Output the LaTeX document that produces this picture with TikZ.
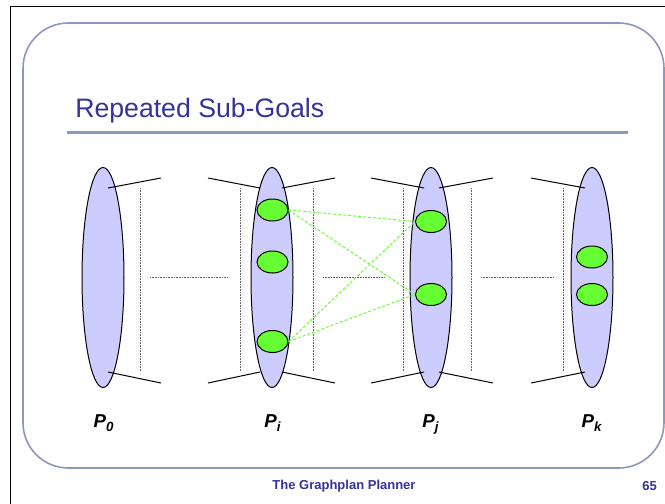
\documentclass[tikz,border=0pt]{standalone}
\usepackage{fontspec}
\setmainfont{Liberation Sans}
\usetikzlibrary{positioning,calc,shapes.geometric}
\definecolor{slideblue}{RGB}{51,51,153}
\definecolor{framegray}{RGB}{140,150,195}
\definecolor{layerfill}{RGB}{204,204,255}
\definecolor{goalgreen}{RGB}{102,255,51}
\newcommand{\lvl}[1]{P\raisebox{-0.5ex}{\fontsize{10}{12}\selectfont #1}}

\begin{document}
\begin{tikzpicture}[x=0.75pt,y=-0.75pt,
    layer/.style={ellipse,draw=black,fill=layerfill,line width=0.75pt,minimum width=31.5pt,minimum height=165pt,inner sep=0pt},
    goal/.style={ellipse,draw=black,fill=goalgreen,line width=0.75pt,minimum width=23.25pt,minimum height=16.5pt,inner sep=0pt},
    edge/.style={black,line width=0.75pt},
    mtx/.style={black!60,line width=0.75pt,dash pattern=on 0.6pt off 0.6pt},
    link/.style={goalgreen,line width=0.75pt,dash pattern=on 2.25pt off 1.5pt},
    lbl/.style={font=\fontsize{14}{16}\selectfont\bfseries\itshape,anchor=base,inner sep=0pt}]
    \useasboundingbox (0,0) rectangle (665,504);
    \draw[black,line width=0.75pt] (10,504) -- (10,6) -- (665,6);
    \draw[framegray,line width=1.2pt,rounded corners=34pt] (23,23) rectangle (664,468);
    \node[anchor=base west,text=slideblue,font=\fontsize{20}{24}\selectfont,inner sep=0pt] (title) at (75,117) {Repeated Sub-Goals};
    \draw[framegray,line width=2.25pt] (67,132) -- (628,132);
    % proposition levels
    \node[layer] (p0) at (103,277.5) {};
    \node[layer] (pi) at (272,277.5) {};
    \node[layer] (pj) at (431,277.5) {};
    \node[layer] (pk) at (592,277.5) {};
    \node[goal] (gi1) at (272.5,210) {};
    \node[goal] (gi2) at (272.5,262) {};
    \node[goal] (gi3) at (272.5,341.5) {};
    \node[goal] (gj1) at (431,221.5) {};
    \node[goal] (gj2) at (431,294.5) {};
    \node[goal] (gk1) at (592,257) {};
    \node[goal] (gk2) at (592,294.5) {};
    % action levels in between
    \foreach \x in {140,240,313,403,471,563} \draw[mtx] (\x,188) -- (\x,372);
    \draw[mtx] (150,277.5) -- (228,277.5);
    \draw[mtx] (323,277.5) -- (385,277.5);
    \draw[mtx] (481,277.5) -- (554,277.5);
    \foreach \n/\a/\b in {p0/5/58,pi/10/63,pi/-12/-64,pj/8/62,pj/-7/-60,pk/-7/-61}{
      \draw[edge] ($(\n)+(\a,-89.5)$) -- ($(\n)+(\b,-99.5)$);
      \draw[edge] ($(\n)+(\a,94.5)$) -- ($(\n)+(\b,105.5)$);
    }
    \draw[link] (gi1.east) -- (gj1.west);
    \draw[link] (gi1.east) -- (gj2.west);
    \draw[link] (gi3.east) -- (gj1.west);
    \draw[link] (gi3.east) -- (gj2.west);
    \node[lbl] (l0) at (103.5,427) {\lvl{0}};
    \node[lbl] (li) at (272.5,427) {\lvl{i}};
    \node[lbl] (lj) at (430.5,427) {\lvl{j}};
    \node[lbl] (lk) at (591.5,427) {\lvl{k}};
    \node[font=\fontsize{9.75}{12}\selectfont\bfseries,text=slideblue,anchor=base,inner sep=0pt] (foot) at (344,489) {The Graphplan Planner};
    \node[font=\fontsize{9.75}{12}\selectfont\bfseries,text=slideblue,anchor=base,inner sep=0pt] (page) at (649.5,490) {65};
  \end{tikzpicture}
\end{document}
